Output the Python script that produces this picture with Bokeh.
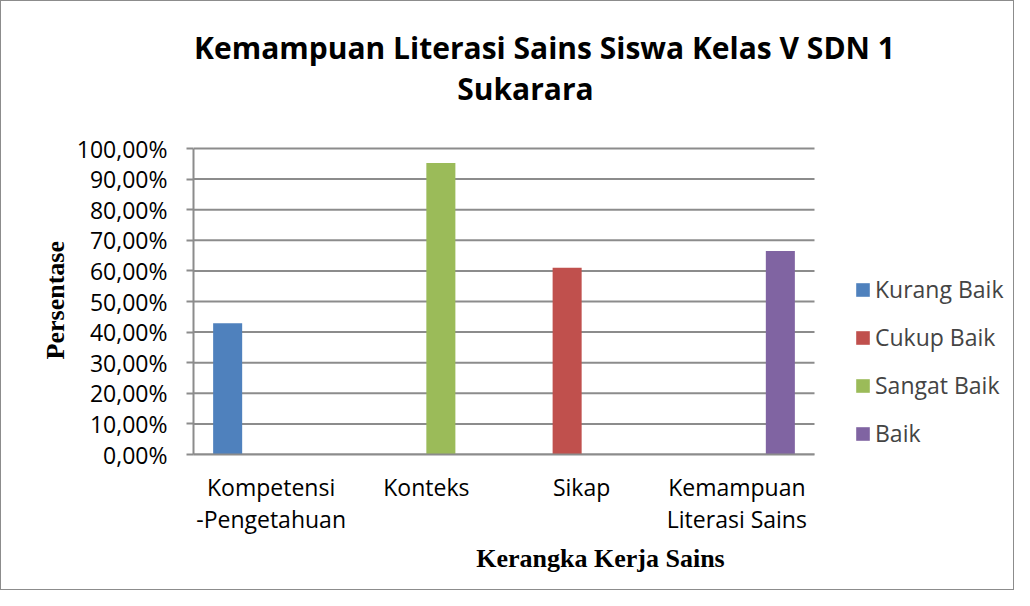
from bokeh.plotting import figure
from bokeh.models import (Range1d, FixedTicker, Legend, LegendItem, ColumnDataSource, Label)
from bokeh.embed import file_html
from bokeh.resources import INLINE

# ---- data ----
categories = ["Kompetensi\n-Pengetahuan", "Konteks", "Sikap", "Kemampuan\nLiterasi Sains"]
series_names = ["Kurang Baik", "Cukup Baik", "Sangat Baik", "Baik"]
kurang_baik = [42.9, 0, 0, 0]
cukup_baik = [0, 0, 61.0, 0]
sangat_baik = [0, 95.3, 0, 0]
baik = [0, 0, 0, 66.5]
y_ticks = [0, 10, 20, 30, 40, 50, 60, 70, 80, 90, 100]
y_tick_labels = ["0,00%", "10,00%", "20,00%", "30,00%", "40,00%", "50,00%",
                 "60,00%", "70,00%", "80,00%", "90,00%", "100,00%"]
title_lines = ["Kemampuan Literasi Sains Siswa Kelas V SDN 1", "Sukarara"]
x_title = "Kerangka Kerja Sains"
y_title = "Persentase"

colors = ["#4F81BD", "#C0504D", "#9BBB59", "#8064A2"]
FONT = "Open Sans"
GRID = "#8c8c8c"
W, H = 1014, 590
LEFT, RIGHT, TOP, BOTTOM = 192, 8, 8, 137
PLOT_TOP = 147                       # pixel row of the 100% line
CAT_PX = 155.25                      # pixel width of one category slot
PX_PER_PCT = (H - BOTTOM - PLOT_TOP) / 100.0
n_cat = len(categories)
x_end = (W - LEFT - RIGHT) / CAT_PX          # frame also hosts the legend on its right
y_end = (H - BOTTOM - TOP) / PX_PER_PCT      # frame also hosts the title above 100%

p = figure(width=W, height=H, x_range=Range1d(0, x_end), y_range=Range1d(0, y_end),
           output_backend="svg", toolbar_location=None, title=None,
           min_border_left=LEFT, min_border_right=RIGHT, min_border_top=TOP,
           min_border_bottom=BOTTOM)
p.styles = {"border": "1px solid #8c8c8c"}
p.outline_line_color = None
p.background_fill_color = "white"
p.border_fill_color = "white"
p.xgrid.grid_line_color = None
p.ygrid.grid_line_color = None

# horizontal gridlines only across the category area
p.segment(x0=[0] * len(y_ticks), x1=[n_cat] * len(y_ticks), y0=y_ticks, y1=y_ticks,
          line_color=GRID, line_width=2)

bw = 0.187
offsets = [-0.28, -0.0933, 0.0933, 0.28]
series = [kurang_baik, cukup_baik, sangat_baik, baik]
renderers = []
for vals, off, c in zip(series, offsets, colors):
    src = ColumnDataSource(dict(x=[i + 0.5 + off for i in range(n_cat)], top=vals))
    r = p.vbar(x="x", top="top", width=bw, bottom=0, source=src,
               fill_color=c, line_color=None)
    renderers.append(r)

# title: two centred lines (screen units relative to the frame's bottom-left)
frame_bottom = H - BOTTOM
for line, cx, row in zip(title_lines, [351, 332], [46, 87]):
    p.add_layout(Label(x=cx, y=frame_bottom - row, x_units="screen", y_units="screen",
                       text=line, text_font=FONT, text_font_style="bold",
                       text_font_size="30px", text_color="black",
                       text_align="center", text_baseline="alphabetic"))

# y axis
p.yaxis.ticker = FixedTicker(ticks=y_ticks)
p.yaxis.bounds = (y_ticks[0], y_ticks[-1])
p.yaxis.major_label_overrides = {t: l for t, l in zip(y_ticks, y_tick_labels)}
p.yaxis.major_label_text_font = FONT
p.yaxis.major_label_text_font_size = "23px"
p.yaxis.major_label_text_color = "black"
p.yaxis.axis_line_color = GRID
p.yaxis.axis_line_width = 2
p.yaxis.major_tick_line_color = GRID
p.yaxis.major_tick_line_width = 2
p.yaxis.major_tick_out = 7
p.yaxis.major_tick_in = 0
p.yaxis.minor_tick_line_color = None
p.yaxis.major_label_standoff = 19
# the label is centred on the whole frame; trailing no-break spaces centre the
# visible word on the 0-100% part of the axis
p.yaxis.axis_label = y_title + "\u00a0" * 21
p.yaxis.axis_label_text_font = "Liberation Serif"
p.yaxis.axis_label_text_font_style = "bold"
p.yaxis.axis_label_text_font_size = "26px"
p.yaxis.axis_label_text_color = "black"
p.yaxis.axis_label_standoff = 4

# x axis (category slots)
cat_ticks = [i + 0.5 for i in range(n_cat)]
p.xaxis.ticker = FixedTicker(ticks=cat_ticks)
p.xaxis.major_label_overrides = {t: c for t, c in zip(cat_ticks, categories)}
p.xaxis.bounds = (0, n_cat)
p.xaxis.major_label_text_font = FONT
p.xaxis.major_label_text_font_size = "23px"
p.xaxis.major_label_text_color = "black"
p.xaxis.major_label_text_line_height = 1.0
p.xaxis.axis_line_color = GRID
p.xaxis.axis_line_width = 2
p.xaxis.major_tick_line_color = None
p.xaxis.minor_tick_line_color = None
p.xaxis.major_label_standoff = 10
p.xaxis.axis_label = x_title
p.xaxis.axis_label_text_font = "Liberation Serif"
p.xaxis.axis_label_text_font_style = "bold"
p.xaxis.axis_label_text_font_size = "26px"
p.xaxis.axis_label_text_color = "black"
p.xaxis.axis_label_standoff = 6

# legend (inside the frame, to the right of the category area)
items = [LegendItem(label=n, renderers=[r]) for n, r in zip(series_names, renderers)]
legend = Legend(items=items, location=(661, 5), glyph_width=17, glyph_height=17,
                label_standoff=4, spacing=16, padding=0, margin=0,
                label_text_font=FONT, label_text_font_size="23px", label_height=20,
                border_line_color=None, background_fill_alpha=0)
p.add_layout(legend)

open("out.html", "w").write(file_html(p, INLINE))
